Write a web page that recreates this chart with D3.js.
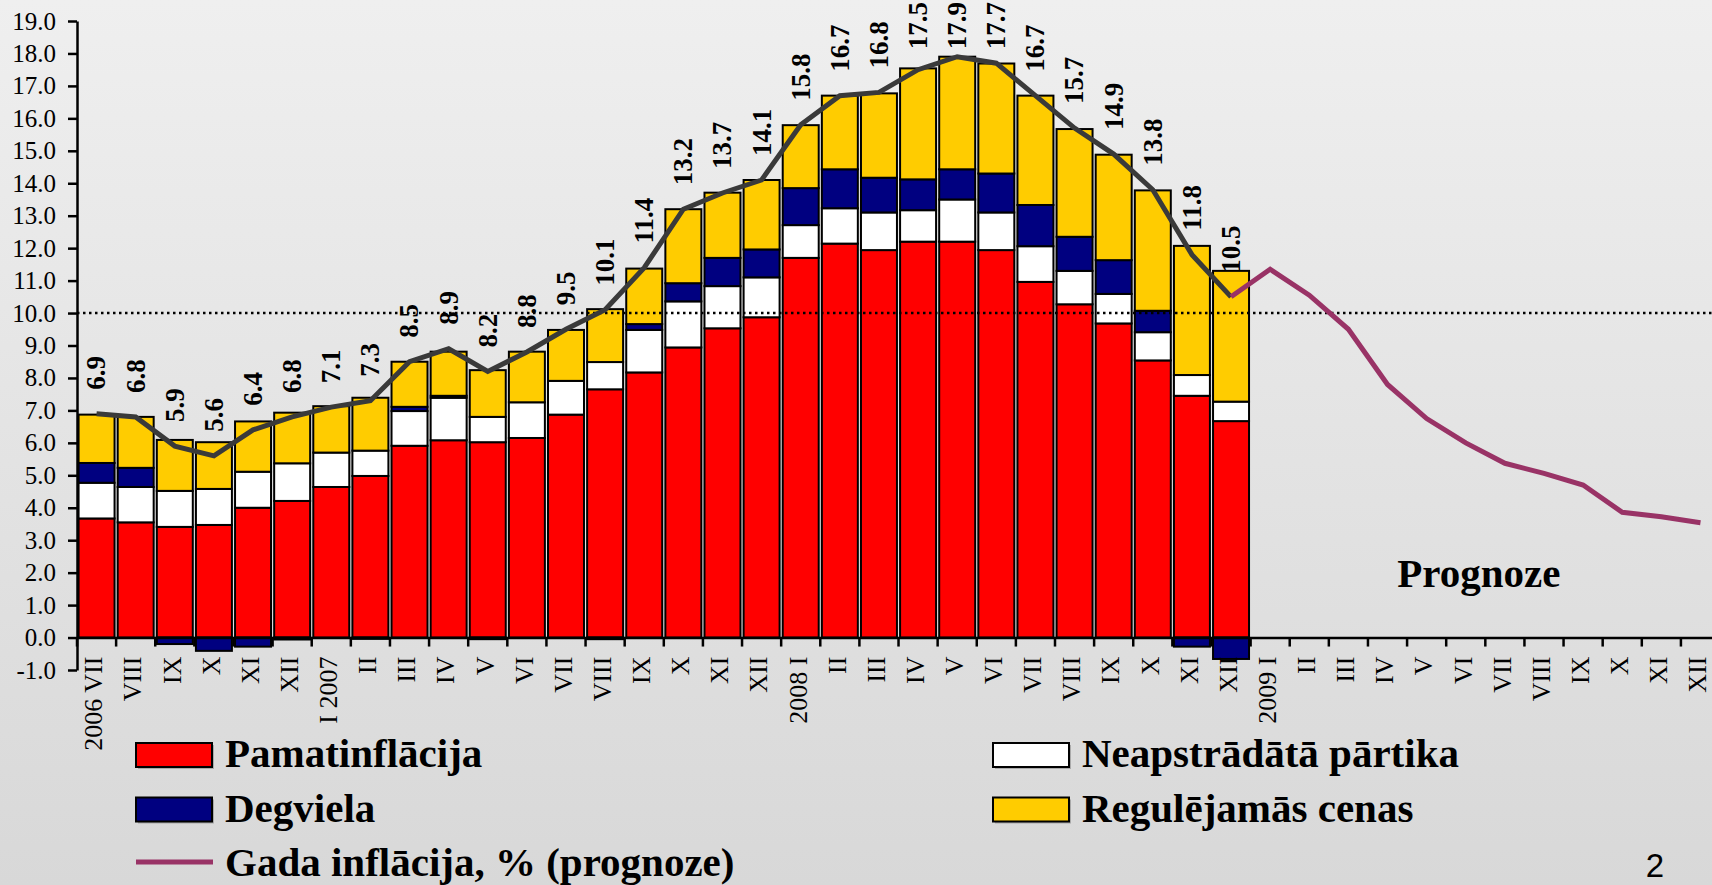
<!DOCTYPE html>
<html lang="lv">
<head>
    <meta charset="UTF-8">
    <title>Inflācija</title>
    <script src="https://cdn.jsdelivr.net/npm/d3@7"></script>
    <style>
        body { margin: 0; }
        svg { display: block; }
        .serif { font-family: "Liberation Serif", "Times New Roman", serif; }
    </style>
</head>
<body>
    <div id="chart"></div>
    <script>
        // month labels (2006 VII .. 2009 XII)
        const months = ["2006 VII","VIII","IX","X","XI","XII",
            "I 2007","II","III","IV","V","VI","VII","VIII","IX","X","XI","XII",
            "2008 I","II","III","IV","V","VI","VII","VIII","IX","X","XI","XII",
            "2009 I","II","III","IV","V","VI","VII","VIII","IX","X","XI","XII"]

        // contributions, 2006 VII .. 2008 XII
        const core = [3.67, 3.55, 3.41, 3.47, 4.00, 4.21, 4.64, 4.98, 5.91, 6.08, 6.02, 6.15, 6.87, 7.65, 8.17,
            8.94, 9.53, 9.87, 11.70, 12.14, 11.94, 12.20, 12.20, 11.94, 10.96, 10.27, 9.68, 8.54, 7.45, 6.67]
        const food = [1.10, 1.09, 1.11, 1.11, 1.11, 1.16, 1.06, 0.78, 1.07, 1.31, 0.78, 1.10, 1.04, 0.84, 1.31,
            1.42, 1.30, 1.23, 1.01, 1.09, 1.16, 0.97, 1.30, 1.16, 1.10, 1.03, 0.91, 0.87, 0.64, 0.60]
        const fuel = [0.61, 0.59, -0.20, -0.41, -0.28, -0.06, 0.00, -0.04, 0.13, 0.06, -0.05, 0.00, 0.00, -0.05, 0.18,
            0.56, 0.87, 0.86, 1.14, 1.20, 1.07, 0.95, 0.93, 1.20, 1.27, 1.05, 1.04, 0.66, -0.28, -0.66]
        const regulated = [1.49, 1.57, 1.57, 1.44, 1.55, 1.56, 1.43, 1.63, 1.39, 1.36, 1.44, 1.56, 1.57, 1.63, 1.71,
            2.28, 2.01, 2.14, 1.94, 2.27, 2.60, 3.42, 3.47, 3.39, 3.37, 3.32, 3.25, 3.71, 3.98, 4.03]

        // annual inflation (line + labels)
        const annual = [6.9, 6.8, 5.9, 5.6, 6.4, 6.8, 7.1, 7.3, 8.5, 8.9, 8.2, 8.8, 9.5, 10.1, 11.4,
            13.2, 13.7, 14.1, 15.8, 16.7, 16.8, 17.5, 17.9, 17.7, 16.7, 15.7, 14.9, 13.8, 11.8, 10.5]

        // forecast 2009 I .. XII
        const forecast = [11.35, 10.55, 9.5, 7.8, 6.75, 6.0, 5.37, 5.06, 4.7, 3.86, 3.72, 3.54]

        const yTicks = d3.range(-1, 19.5, 1)

        const w = 1712
        const h = 885

        let svg = d3.select('#chart').append('svg')
            .attr('width', w)
            .attr('height', h)

        // background gradient
        let grad = svg.append('defs').append('linearGradient')
            .attr('id', 'bg').attr('x1', 0).attr('y1', 0).attr('x2', 0).attr('y2', 1)
        grad.append('stop').attr('offset', '0%').attr('stop-color', '#efefef')
        grad.append('stop').attr('offset', '100%').attr('stop-color', '#d8d8d8')
        svg.append('rect').attr('width', w).attr('height', h).attr('fill', 'url(#bg)')

        let x = d3.scaleBand()
            .domain(d3.range(months.length))
            .range([77, 77 + months.length * 39.12])
            .paddingInner(0.08)
            .paddingOuter(0.04)
        let y = d3.scaleLinear().domain([-1, 19]).range([670, 21])
        const bw = x.bandwidth()
        const cx = i => x(i) + bw / 2

        // stacked bars
        let rows = core.map((d, i) => ({ core: d, food: food[i], fuel: fuel[i], reg: regulated[i] }))
        let series = d3.stack()
            .keys(['core', 'food', 'fuel', 'reg'])
            .offset(d3.stackOffsetDiverging)(rows)
        const colors = { core: '#ff0000', food: '#ffffff', fuel: '#000080', reg: '#ffcc00' }

        svg.append('g').selectAll('g')
            .data(series)
            .enter().append('g')
            .attr('fill', s => colors[s.key])
            .selectAll('rect')
            .data(s => s)
            .enter().append('rect')
            .attr('x', (d, i) => x(i))
            .attr('y', d => y(d[1]))
            .attr('width', bw)
            .attr('height', d => y(d[0]) - y(d[1]))
            .attr('stroke', '#000')
            .attr('stroke-width', 2)

        // y axis
        let yAxis = d3.axisLeft(y)
            .tickValues(yTicks)
            .tickFormat(d => d.toFixed(1))
            .tickSize(9)
            .tickSizeOuter(0)
            .tickPadding(12)
        let gy = svg.append('g')
            .attr('transform', 'translate(77,0)')
            .call(yAxis)
        gy.selectAll('text').attr('class', 'serif').attr('font-size', 25).attr('fill', '#000')
        gy.selectAll('line, path').attr('stroke', '#000').attr('stroke-width', 2.5)

        // x axis at zero
        let xAxis = d3.axisBottom(x)
            .tickFormat(i => months[i])
            .tickSize(0)
            .tickSizeOuter(0)
        let gx = svg.append('g')
            .attr('transform', `translate(0,${y(0)})`)
            .call(xAxis)
        gx.select('path').attr('stroke', '#000').attr('stroke-width', 2.5)
        gx.selectAll('text')
            .attr('class', 'serif')
            .attr('font-size', 26)
            .attr('fill', '#000')
            .attr('text-anchor', 'end')
            .attr('x', 0).attr('y', 0)
            .attr('dy', '0.3em')
            .attr('transform', 'translate(-2,19) rotate(-90)')

        // boundary ticks between months
        gx.selectAll('.btick')
            .data(d3.range(months.length + 1))
            .enter().append('line')
            .attr('class', 'btick')
            .attr('x1', i => x.range()[0] + i * x.step())
            .attr('x2', i => x.range()[0] + i * x.step())
            .attr('y1', 0).attr('y2', 9)
            .attr('stroke', '#000').attr('stroke-width', 2.5)

        // dotted reference line at 10
        svg.append('line')
            .attr('x1', 77).attr('x2', w)
            .attr('y1', y(10)).attr('y2', y(10))
            .attr('stroke', '#000')
            .attr('stroke-width', 2.5)
            .attr('stroke-dasharray', '2.5,3.5')

        // annual inflation line
        let line = d3.line().x(d => cx(d[0])).y(d => y(d[1]))
        svg.append('path')
            .datum(annual.map((v, i) => [i, v]))
            .attr('d', line)
            .attr('fill', 'none')
            .attr('stroke', '#3a3a3a')
            .attr('stroke-width', 5)

        // forecast line, starts at last actual point
        let last = annual.length - 1
        let fc = [[last, annual[last]]].concat(forecast.map((v, i) => [last + 1 + i, v]))
        svg.append('path')
            .datum(fc)
            .attr('d', line)
            .attr('fill', 'none')
            .attr('stroke', '#993366')
            .attr('stroke-width', 5)

        // value labels, kept inside the top edge like the original
        let labels = svg.append('g').selectAll('text')
            .data(annual)
            .enter().append('text')
            .attr('class', 'serif')
            .attr('font-size', 27)
            .attr('font-weight', 'bold')
            .attr('text-anchor', 'start')
            .attr('dy', '0.33em')
            .text(d => d.toFixed(1))
        labels.attr('transform', function (d, i) {
            let len = this.getComputedTextLength()
            let base = Math.max(y(d) - 24, len + 2)
            return `translate(${cx(i)},${base}) rotate(-90)`
        })

        // "Prognoze" caption
        svg.append('text')
            .attr('class', 'serif')
            .attr('x', x(36) - 8)
            .attr('y', y(1.55))
            .attr('text-anchor', 'middle')
            .attr('font-size', 41)
            .attr('font-weight', 'bold')
            .text('Prognoze')

        // legend
        const legendItems = [
            { name: 'Pamatinflācija', type: 'box', color: '#ff0000', col: 0, row: 0 },
            { name: 'Neapstrādātā pārtika', type: 'box', color: '#ffffff', col: 1, row: 0 },
            { name: 'Degviela', type: 'box', color: '#000080', col: 0, row: 1 },
            { name: 'Regulējamās cenas', type: 'box', color: '#ffcc00', col: 1, row: 1 },
            { name: 'Gada inflācija, % (prognoze)', type: 'line', color: '#993366', col: 0, row: 2 }
        ]
        let leg = svg.append('g')
        let li = leg.selectAll('g')
            .data(legendItems)
            .enter().append('g')
            .attr('transform', d => `translate(${d.col ? 993 : 136},${767 + d.row * 54.5})`)
        li.filter(d => d.type === 'box').append('rect')
            .attr('x', 2).attr('y', -22).attr('width', 76).attr('height', 24)
            .attr('fill', '#888').attr('opacity', 0.6)
        li.filter(d => d.type === 'box').append('rect')
            .attr('x', 0).attr('y', -24).attr('width', 76).attr('height', 24)
            .attr('fill', d => d.color)
            .attr('stroke', '#000').attr('stroke-width', 2)
        li.filter(d => d.type === 'line').append('line')
            .attr('x1', 0).attr('x2', 77).attr('y1', -14).attr('y2', -14)
            .attr('stroke', d => d.color).attr('stroke-width', 5)
        li.append('text')
            .attr('class', 'serif')
            .attr('x', 89)
            .attr('font-size', 41)
            .attr('font-weight', 'bold')
            .text(d => d.name)

        // slide number
        svg.append('text')
            .attr('x', 1655).attr('y', 877)
            .attr('text-anchor', 'middle')
            .attr('font-family', '"Liberation Sans", Arial, sans-serif')
            .attr('font-size', 33)
            .text('2')
    </script>
</body>
</html>
